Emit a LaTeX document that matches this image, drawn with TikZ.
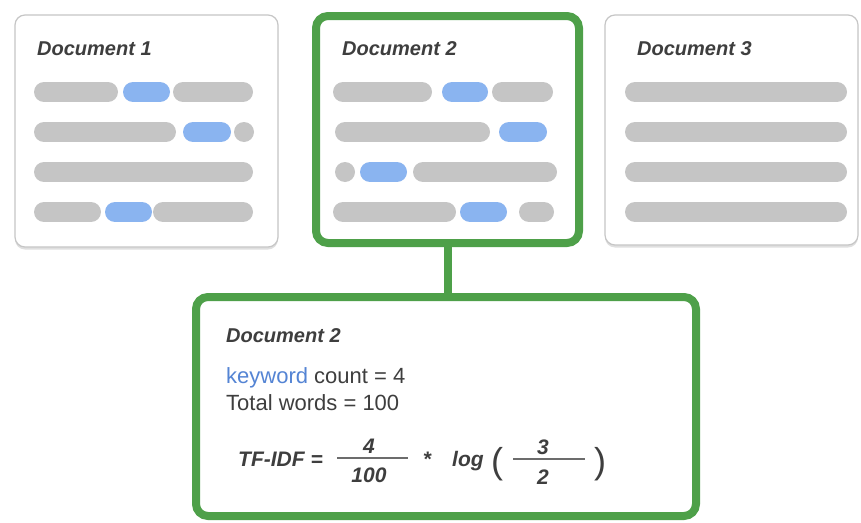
\documentclass[tikz,border=0pt]{standalone}
\usepackage{fontspec}
\setmainfont{Liberation Sans}
\usetikzlibrary{shadows, positioning}

\definecolor{docgreen}{RGB}{78,160,73}
\definecolor{pillgrey}{RGB}{197,197,197}
\definecolor{pillblue}{RGB}{138,180,240}
\definecolor{inkgrey}{RGB}{62,62,62}
\definecolor{kwblue}{RGB}{84,132,212}

% one word bar of a document line: colour, x from, y, x to
\newcommand{\pill}[4]{\draw[wordbar, #1] (#2+10,#3) -- (#4-10,#3);}
\newcommand{\pilldot}[3]{\fill[#1] (#2,#3) circle (10);}

\begin{document}
\begin{tikzpicture}[x=1pt, y=-1pt]
    \tikzstyle{card}    = [rectangle, rounded corners=10pt, draw=gray!45, line width=1.2pt, fill=white, drop shadow={opacity=0.25, shadow xshift=0pt, shadow yshift=-2.5pt}]
    \tikzstyle{chosen}  = [rectangle, rounded corners=12pt, draw=docgreen, line width=8pt, fill=white]
    \tikzstyle{title}   = [anchor=base west, inner sep=0pt, text=inkgrey, font=\fontsize{20}{24}\selectfont\bfseries\itshape]
    \tikzstyle{body}    = [anchor=base west, inner sep=0pt, text=inkgrey, font=\fontsize{22}{26}\selectfont]
    \tikzstyle{formula} = [anchor=base, inner sep=0pt, text=inkgrey, font=\fontsize{21}{25}\selectfont\bfseries\itshape]
    \tikzstyle{paren}   = [anchor=base, inner sep=0pt, text=inkgrey, font=\fontsize{36}{38}\selectfont]
    \tikzstyle{wordbar} = [line width=20pt, line cap=round]
    \tikzstyle{fracbar} = [line width=1.6pt, draw=gray!85!black]
    \tikzstyle{link}    = [line width=8pt, draw=docgreen]

    \fill[white] (0,0) rectangle (861,522);
    \useasboundingbox (0,0) rectangle (861,522);

    % Documents
    \node [card, minimum width=263pt, minimum height=232pt]   (doc1)   at (146.5,131)   {};
    \node [chosen, minimum width=263pt, minimum height=227pt] (doc2)   at (447.5,129.5) {};
    \node [card, minimum width=253pt, minimum height=230pt]   (doc3)   at (731.5,130)   {};

    % Detail of document 2
    \node [chosen, minimum width=500pt, minimum height=219pt] (detail) at (446,406.5)   {};

    % Link
    \draw [link] (doc2.south) -- (doc2.south |- detail.north);

    % Titles
    \node [title] (doc1title) at (37,55)  {Document 1};
    \node [title] (doc2title) at (342,55) {Document 2};
    \node [title] (doc3title) at (637,55) {Document 3};

    % Document 1 lines
    \pill{pillgrey}{34}{92}{118}  \pill{pillblue}{123}{92}{170} \pill{pillgrey}{173}{92}{253}
    \pill{pillgrey}{34}{132}{176} \pill{pillblue}{183}{132}{231} \pilldot{pillgrey}{244}{132}
    \pill{pillgrey}{34}{172}{253}
    \pill{pillgrey}{34}{212}{101} \pill{pillblue}{105}{212}{152} \pill{pillgrey}{153}{212}{253}

    % Document 2 lines
    \pill{pillgrey}{333}{92}{432}  \pill{pillblue}{442}{92}{488} \pill{pillgrey}{492}{92}{553}
    \pill{pillgrey}{335}{132}{490} \pill{pillblue}{499}{132}{547}
    \pilldot{pillgrey}{345}{172}   \pill{pillblue}{360}{172}{407} \pill{pillgrey}{413}{172}{557}
    \pill{pillgrey}{333}{212}{456} \pill{pillblue}{460}{212}{507} \pill{pillgrey}{519}{212}{554}

    % Document 3 lines
    \foreach \y in {92,132,172,212} {
        \pill{pillgrey}{625}{\y}{847}
    }

    % Counts
    \node [title] (dettitle) at (226,342)   {Document 2};
    \node [body]  (count)    at (226,383)   {\textcolor{kwblue}{keyword} count = 4};
    \node [body]  (total)    at (226,410)   {Total words = 100};

    % TF-IDF formula
    \node [formula, anchor=base west] (tfidf) at (238,466) {TF-IDF =};
    \node [formula] (num1)   at (369,453.5) {4};
    \node [formula] (den1)   at (369,482.5) {100};
    \draw [fracbar] (337,458) -- (408,458);
    \node [formula] (times)  at (427,466)   {*};
    \node [formula, anchor=base west] (logw) at (452,466) {log};
    \node [paren]   (lparen) at (497,473)   {(};
    \node [formula] (num2)   at (543,454.5) {3};
    \node [formula] (den2)   at (543,484.5) {2};
    \draw [fracbar] (513,459) -- (585,459);
    \node [paren]   (rparen) at (600,473)   {)};

\end{tikzpicture}
\end{document}
